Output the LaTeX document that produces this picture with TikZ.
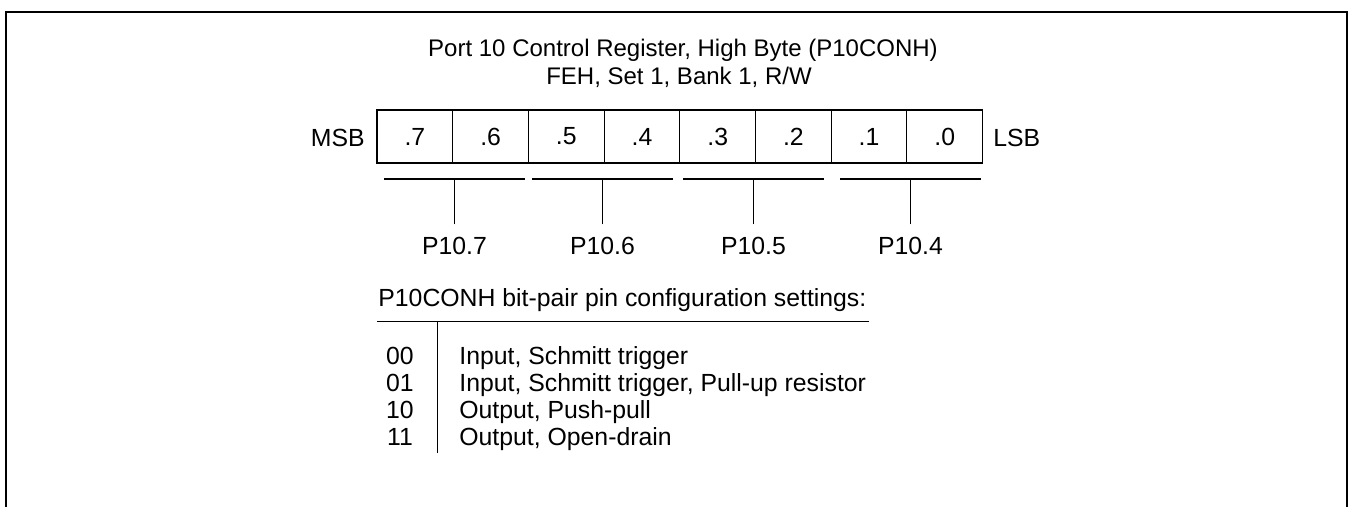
\documentclass[tikz,border=0pt]{standalone}
\usepackage{fontspec}
\setmainfont{Liberation Sans}
\begin{document}
\begin{tikzpicture}[x=0.5pt,y=-0.5pt,
        font=\fontsize{12.4}{15}\selectfont,
        bitcell/.style={draw,line width=0.6pt,minimum width=37.85pt,minimum height=26.5pt,inner sep=0pt},
        thinline/.style={line width=0.6pt},
        txt/.style={inner sep=0pt},
        titletxt/.style={inner sep=0pt,anchor=base,font=\fontsize{12}{14}\selectfont},
        pinlabel/.style={anchor=base,inner xsep=0pt,inner ysep=6.5pt}]
        \useasboundingbox (0,0) rectangle (1351,507);
        \draw[line width=1.1pt] (6,507) |- (1347,12) -- (1347,507);
        \draw (683,57) node[titletxt] (title) {Port 10 Control Register, High Byte (P10CONH)};
        \draw (679,85) node[titletxt] (subtitle) {FEH, Set 1, Bank 1, R/W};
        \draw (414.9,136.5) node[bitcell] (b7) {.7};
        \draw (490.6,136.5) node[bitcell] (b6) {.6};
        \draw (566.3,136.5) node[bitcell] (b5) {.5};
        \draw (642.0,136.5) node[bitcell] (b4) {.4};
        \draw (717.7,136.5) node[bitcell] (b3) {.3};
        \draw (793.4,136.5) node[bitcell] (b2) {.2};
        \draw (869.0,136.5) node[bitcell] (b1) {.1};
        \draw (944.7,136.5) node[bitcell] (b0) {.0};
        \draw (365,146.5) node[txt,anchor=base east] (msb) {MSB};
        \draw (993,146.5) node[txt,anchor=base west] (lsb) {LSB};
        \coordinate (a7) at (384,179);
        \coordinate (c7) at (525,179);
        \coordinate (a6) at (532,179);
        \coordinate (c6) at (673,179);
        \coordinate (a5) at (683,179);
        \coordinate (c5) at (824,179);
        \coordinate (a4) at (840,179);
        \coordinate (c4) at (981,179);
        \draw[thinline] (a7)--(c7);
        \draw[thinline] (a6)--(c6);
        \draw[thinline] (a5)--(c5);
        \draw[thinline] (a4)--(c4);
        \draw (454.5,255) node[pinlabel] (p7) {P10.7};
        \draw (602.5,255) node[pinlabel] (p6) {P10.6};
        \draw (753.5,255) node[pinlabel] (p5) {P10.5};
        \draw (910.5,255) node[pinlabel] (p4) {P10.4};
        \draw[thinline] (p7.north)--(p7.north |- a7);
        \draw[thinline] (p6.north)--(p6.north |- a6);
        \draw[thinline] (p5.north)--(p5.north |- a5);
        \draw[thinline] (p4.north)--(p4.north |- a4);
        \draw (378,307) node[txt,anchor=base west] (head) {P10CONH bit-pair pin configuration settings:};
        \coordinate (rl) at (377,321.5);
        \coordinate (rr) at (869,321.5);
        \coordinate (vt) at (437.5,321.5);
        \coordinate (vb) at (437.5,453);
        \draw[thinline] (rl)--(rr);
        \draw[thinline] (vt)--(vb);
        \draw (400,365) node[txt,anchor=base] (k00) {00};
        \draw (400,392) node[txt,anchor=base] (k01) {01};
        \draw (400,419) node[txt,anchor=base] (k10) {10};
        \draw (400,446) node[txt,anchor=base] (k11) {11};
        \draw (459,365) node[txt,anchor=base west] (d00) {Input, Schmitt trigger};
        \draw (459,392) node[txt,anchor=base west] (d01) {Input, Schmitt trigger, Pull-up resistor};
        \draw (459,419) node[txt,anchor=base west] (d10) {Output, Push-pull};
        \draw (459,446) node[txt,anchor=base west] (d11) {Output, Open-drain};
    \end{tikzpicture}
\end{document}
